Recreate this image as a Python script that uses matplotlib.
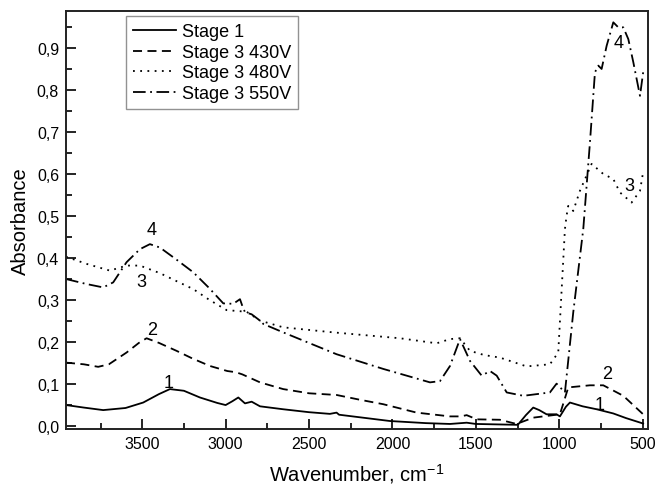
"""
FTIR absorbance spectra for Stage 1 and Stage 3 samples (430 V, 480 V, 550 V).
"""

import matplotlib
matplotlib.use('Agg')
import matplotlib.pyplot as plt
from matplotlib.ticker import MultipleLocator, FuncFormatter


# Stage 1 (curve 1)
WN_STAGE1 = [3957, 3850, 3734, 3600, 3494, 3400, 3334, 3250, 3154, 3050,
             3000, 2960, 2924, 2884, 2844, 2794, 2655, 2500, 2375, 2335,
             2320, 2015, 1800, 1655, 1555, 1500, 1255, 1246, 1200, 1156,
             1120, 1076, 1016, 996, 960, 936, 860, 776, 676, 600, 497]
ABS_STAGE1 = [0.049, 0.043, 0.037, 0.042, 0.055, 0.075, 0.087, 0.083, 0.067, 0.054,
              0.049, 0.058, 0.067, 0.053, 0.057, 0.046, 0.039, 0.032, 0.028, 0.031,
              0.026, 0.011, 0.006, 0.004, 0.007, 0.004, 0.002, 0.003, 0.025, 0.043,
              0.037, 0.027, 0.027, 0.022, 0.045, 0.055, 0.046, 0.039, 0.029, 0.018, 0.005]

# Stage 3 430V (curve 2)
WN_430V = [3957, 3850, 3764, 3700, 3594, 3520, 3474, 3400, 3294, 3200,
           3094, 2990, 2954, 2930, 2900, 2794, 2655, 2500, 2335, 2200,
           2055, 1855, 1655, 1590, 1555, 1495, 1356, 1256, 1156, 996,
           970, 946, 816, 736, 616, 497]
ABS_430V = [0.150, 0.146, 0.140, 0.146, 0.174, 0.197, 0.208, 0.197, 0.178, 0.160,
            0.142, 0.130, 0.128, 0.126, 0.122, 0.103, 0.087, 0.077, 0.073, 0.062,
            0.051, 0.031, 0.022, 0.022, 0.025, 0.015, 0.014, 0.004, 0.019, 0.027,
            0.060, 0.091, 0.096, 0.096, 0.071, 0.027]

# Stage 3 480V (curve 3)
WN_480V = [3957, 3833, 3694, 3594, 3514, 3394, 3300, 3194, 3100, 2994,
           2874, 2794, 2655, 2355, 1955, 1735, 1655, 1595, 1535, 1450,
           1356, 1196, 1056, 1006, 966, 956, 946, 916, 876, 806,
           736, 676, 636, 566, 516, 497]
ABS_480V = [0.402, 0.385, 0.369, 0.381, 0.381, 0.363, 0.345, 0.325, 0.300, 0.275,
            0.271, 0.250, 0.234, 0.222, 0.208, 0.196, 0.206, 0.208, 0.178, 0.168,
            0.162, 0.141, 0.146, 0.174, 0.468, 0.500, 0.523, 0.511, 0.559, 0.623,
            0.599, 0.587, 0.555, 0.531, 0.559, 0.604]

# Stage 3 550V (curve 4)
WN_550V = [3957, 3833, 3734, 3674, 3594, 3514, 3454, 3394, 3294, 3194,
           3100, 3014, 2954, 2914, 2900, 2884, 2844, 2794, 2774, 2655,
           2335, 2055, 1775, 1715, 1655, 1595, 1535, 1465, 1415, 1375,
           1315, 1215, 1056, 1016, 966, 916, 856, 816, 786, 766,
           746, 716, 676, 646, 616, 586, 556, 516, 497]
ABS_550V = [0.349, 0.337, 0.329, 0.341, 0.389, 0.420, 0.432, 0.424, 0.395, 0.365,
            0.328, 0.291, 0.290, 0.301, 0.285, 0.270, 0.265, 0.250, 0.242, 0.222,
            0.170, 0.135, 0.103, 0.106, 0.142, 0.206, 0.154, 0.119, 0.130, 0.119,
            0.079, 0.071, 0.079, 0.100, 0.079, 0.270, 0.468, 0.674, 0.841, 0.857,
            0.849, 0.904, 0.960, 0.948, 0.948, 0.920, 0.865, 0.785, 0.841]

SERIES_LABELS = ['Stage 1', 'Stage 3 430V', 'Stage 3 480V', 'Stage 3 550V']

# curve number labels: (text, wavenumber, absorbance)
CURVE_TAGS = [
    ('1', 3340, 0.103), ('2', 3443, 0.230), ('3', 3503, 0.343), ('4', 3443, 0.468),
    ('4', 646, 0.912), ('3', 580, 0.572), ('2', 712, 0.123), ('1', 760, 0.051),
]


def comma_fmt(v, pos):
    return f"{v:.1f}".replace('.', ',')


def main():
    plt.rcParams['font.family'] = ['Liberation Sans', 'DejaVu Sans']
    plt.rcParams['mathtext.default'] = 'regular'

    fig = plt.figure(figsize=(6.56, 4.85), dpi=100)
    ax = fig.add_axes([0.1006, 0.1134, 0.8872, 0.8619])

    lw = 1.3
    ax.plot(WN_STAGE1, ABS_STAGE1, color='black', lw=lw, ls='-',
            label=SERIES_LABELS[0])
    ax.plot(WN_430V, ABS_430V, color='black', lw=lw, ls=(0, (5, 3)),
            label=SERIES_LABELS[1])
    ax.plot(WN_480V, ABS_480V, color='black', lw=lw, ls=(0, (1, 3)),
            label=SERIES_LABELS[2])
    ax.plot(WN_550V, ABS_550V, color='black', lw=lw, ls=(0, (7, 2.5, 1, 2.5)),
            label=SERIES_LABELS[3])

    for txt, wn, a in CURVE_TAGS:
        ax.text(wn, a, txt, fontsize=13, ha='center', va='center')

    ax.set_xlim(3957, 468)
    ax.set_ylim(-0.008, 0.987)

    ax.xaxis.set_major_locator(MultipleLocator(500))
    ax.xaxis.set_minor_locator(MultipleLocator(250))
    ax.yaxis.set_major_locator(MultipleLocator(0.1))
    ax.yaxis.set_minor_locator(MultipleLocator(0.05))
    ax.yaxis.set_major_formatter(FuncFormatter(comma_fmt))

    ax.tick_params(which='both', direction='in', top=False, right=False,
                   width=1.2, labelsize=11.5)
    ax.tick_params(which='major', length=7, pad=5)
    ax.tick_params(which='minor', length=4)
    for sp in ax.spines.values():
        sp.set_linewidth(1.4)
        sp.set_color('#222222')

    ax.set_xlabel('Wavenumber, cm$^{-1}$', fontsize=14.5, labelpad=7)
    ax.set_ylabel('Absorbance', fontsize=14.5, labelpad=5)

    leg = ax.legend(loc='upper left', bbox_to_anchor=(0.103, 0.988),
                    borderaxespad=0, fancybox=False, fontsize=13,
                    handlelength=2.4, handletextpad=0.3, labelspacing=0.2,
                    borderpad=0.4)
    leg.get_frame().set_edgecolor('#777777')
    leg.get_frame().set_linewidth(1.0)

    fig.savefig('out.png', dpi=100)


if __name__ == "__main__":
    main()
